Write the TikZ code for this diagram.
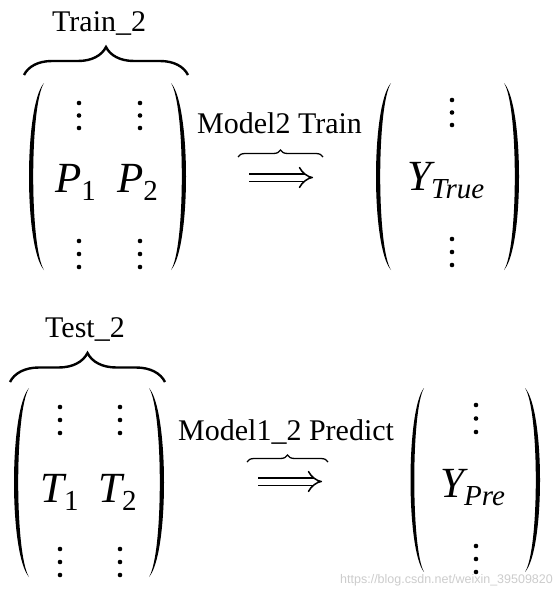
\documentclass[tikz,border=0pt]{standalone}
\usepackage{fontspec}
\setmainfont{Liberation Serif}
\setsansfont{Liberation Sans}
\usetikzlibrary{arrows.meta,decorations.pathreplacing}

\newcommand{\bigfont}{\fontsize{43}{50}\selectfont}
\newcommand{\subfont}{\fontsize{29}{34}\selectfont}
% entry with a subscript
\newcommand{\entry}[2]{{\bigfont\itshape #1}\raisebox{-8pt}{\subfont #2}}
% parenthesis: end x, top y, bottom y, bulge of the controls
\newcommand{\parenshape}[4]{%
  \fill (#1,#2) .. controls ({#1+#4},{#2+0.12*(#3-#2)}) and ({#1+#4},{#2+0.88*(#3-#2)}) .. (#1,#3)
    .. controls ({#1+0.72*#4},{#2+0.88*(#3-#2)}) and ({#1+0.72*#4},{#2+0.12*(#3-#2)}) .. cycle;}

\begin{document}
\begin{tikzpicture}[x=1pt,y=-1pt,every node/.style={inner sep=0pt}]
  \tikzset{
    lbl/.style={font=\fontsize{30}{36}\selectfont,anchor=base west},
    ent/.style={anchor=base west},
    brc/.style={decorate,decoration={brace,amplitude=#1},line width=2.4pt},
    sbrc/.style={decorate,decoration={brace,amplitude=#1},line width=1.3pt},
    implies/.style={double,double distance=6pt,line width=1.5pt,-{Implies[length=9pt,width=20pt]}}
  }
  \useasboundingbox (0,0) rectangle (558,594);

  % upper row
  \node[lbl] (train) at (52,32) {Train\_2};
  \draw[brc=28] (24,75) -- (188,75);
  \parenshape{44}{83}{270}{-20}
  \parenshape{171}{83}{270}{20}
  \foreach \x in {79,140}
    \foreach \y in {103,115.5,128,241,254,267}
      \fill (\x,\y) circle (2.3);
  \node[ent] (p1) at (55,192) {\entry{P}{1}};
  \node[ent] (p2) at (117,192) {\entry{P}{2}};
  \node[lbl] (mtrain) at (197,133) {Model2 Train};
  \draw[sbrc=7] (238,157) -- (323,157);
  \coordinate (a1s) at (249,177.5);
  \coordinate (a1e) at (313,177.5);
  \draw[implies] (a1s) -- (a1e);
  \parenshape{391}{83}{270}{-20}
  \parenshape{504}{83}{270}{20}
  \foreach \y in {100,112.5,125,239,252,265}
    \fill (452,\y) circle (2.3);
  \node[ent] (ytrue) at (407,190) {\entry{Y}{\itshape True}};

  % lower row
  \node[lbl] (test) at (45,337) {Test\_2};
  \draw[brc=29] (10,382) -- (165,382);
  \parenshape{29}{388}{577}{-20}
  \parenshape{149}{388}{577}{20}
  \foreach \x in {60,120}
    \foreach \y in {407,420,433,549,562,575}
      \fill (\x,\y) circle (2.3);
  \node[ent] (t1) at (40,502) {\entry{T}{1}};
  \node[ent] (t2) at (98,502) {\entry{T}{2}};
  \node[lbl] (mpred) at (178,440) {Model1\_2 Predict};
  \draw[sbrc=7] (247,462) -- (328,462);
  \coordinate (a2s) at (258,481.5);
  \coordinate (a2e) at (322,481.5);
  \draw[implies] (a2s) -- (a2e);
  \parenshape{424}{388}{572}{-18}
  \parenshape{525}{388}{572}{20}
  \foreach \y in {405,418.5,432,546,559,572}
    \fill (476,\y) circle (2.3);
  \node[ent] (ypre) at (440,497) {\entry{Y}{\itshape Pre}};

  \node[anchor=base west,font=\sffamily\fontsize{12.5}{14}\selectfont,text=gray!40] (mark) at (340,583) {https://blog.csdn.net/weixin\_39509820};
\end{tikzpicture}
\end{document}
